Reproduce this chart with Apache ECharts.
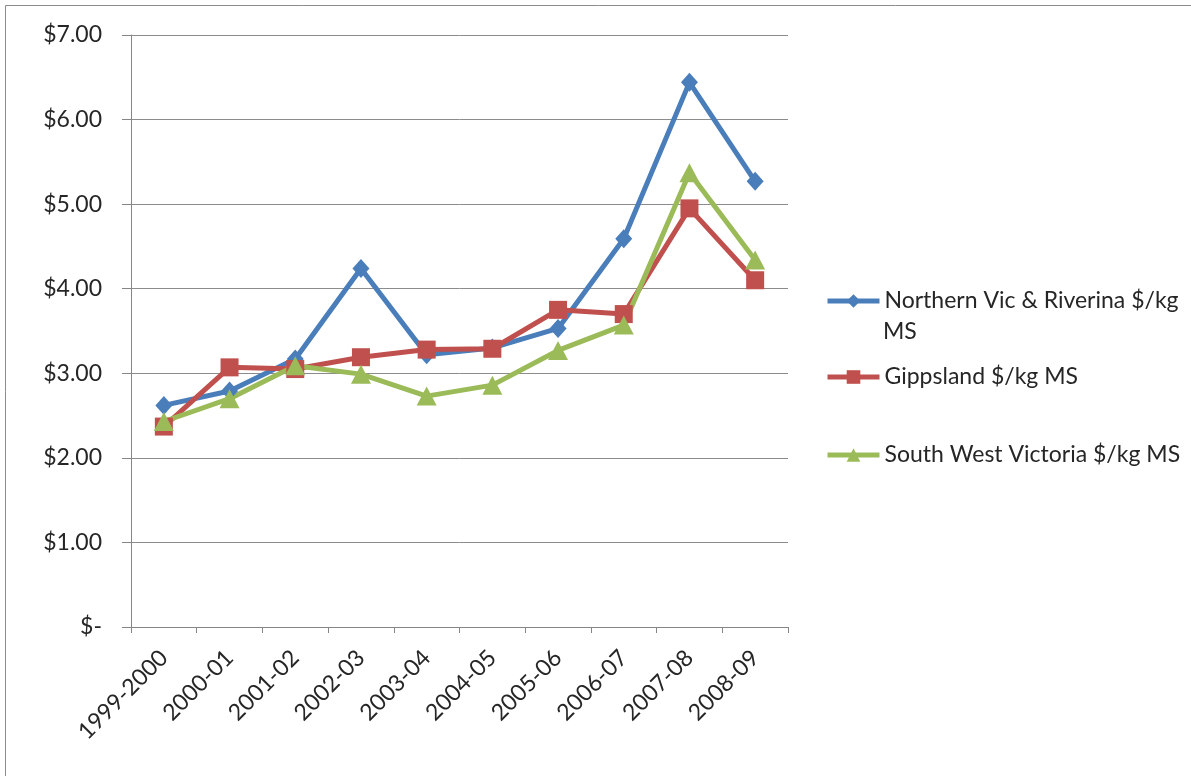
<!DOCTYPE html>
<html>
<head>
<meta charset="utf-8">
<script src="https://cdn.jsdelivr.net/npm/echarts@6/dist/echarts.min.js"></script>
<style>
  html, body { margin: 0; padding: 0; background: #fff; }
  #chart { width: 1191px; height: 776px; }
</style>
</head>
<body>
<div id="chart"></div>
<script>
// Milk price by region, $/kg milk solids
const seasons = ['1999-2000', '2000-01', '2001-02', '2002-03', '2003-04',
                 '2004-05', '2005-06', '2006-07', '2007-08', '2008-09'];
const northernVic = [2.62, 2.79, 3.17, 4.24, 3.22, 3.30, 3.53, 4.59, 6.44, 5.27];
const gippsland   = [2.37, 3.07, 3.05, 3.19, 3.28, 3.29, 3.75, 3.70, 4.95, 4.10];
const southWest   = [2.43, 2.70, 3.09, 2.99, 2.73, 2.86, 3.27, 3.57, 5.37, 4.34];

const names = ['Northern Vic & Riverina $/kg MS', 'Gippsland $/kg MS', 'South West Victoria $/kg MS'];
const colors = ['#4A7EBB', '#C0504D', '#9BBB59'];

const FONT = 'Lato';
const chart = echarts.init(document.getElementById('chart'), null, { renderer: 'canvas' });

function legendAt(name, top, fmt) {
  return {
    data: [name],
    left: 825,
    top: top,
    orient: 'vertical',
    itemWidth: 52,
    itemHeight: 17,
    padding: 0,
    selectedMode: false,
    formatter: fmt || '{name}',
    lineStyle: { width: 5 },
    textStyle: { fontFamily: FONT, fontSize: 23, color: '#262626', lineHeight: 26 }
  };
}

chart.setOption({
  animation: false,
  backgroundColor: '#ffffff',
  color: colors,
  grid: { left: 131, right: 403, top: 35, bottom: 149, containLabel: false },
  graphic: [
    {
      type: 'rect',
      shape: { x: 5.5, y: 5.5, width: 1300, height: 900 },
      style: { fill: 'none', stroke: '#8c8c8c', lineWidth: 1 },
      silent: true
    },
    {
      type: 'text',
      left: 883,
      top: 320,
      style: { text: 'MS', font: '23px ' + FONT, fill: '#262626' },
      silent: true
    }
  ],
  legend: [
    legendAt(names[0], 288, 'Northern Vic & Riverina $/kg'),
    legendAt(names[1], 364),
    legendAt(names[2], 442)
  ],
  xAxis: {
    type: 'category',
    data: seasons,
    boundaryGap: true,
    axisLine: { lineStyle: { color: '#868686', width: 1 } },
    axisTick: { show: true, length: 6, lineStyle: { color: '#868686' } },
    axisLabel: {
      rotate: 45,
      margin: 27,
      fontFamily: FONT,
      fontSize: 23,
      color: '#262626'
    },
    splitLine: { show: false }
  },
  yAxis: {
    type: 'value',
    min: 0,
    max: 7,
    interval: 1,
    axisLine: { show: true, lineStyle: { color: '#868686', width: 1 } },
    axisTick: { show: true, inside: false, length: 9, lineStyle: { color: '#868686' } },
    axisLabel: {
      margin: 29,
      fontFamily: FONT,
      fontSize: 23,
      color: '#262626',
      formatter: v => v === 0 ? '$-' : '$' + v.toFixed(2)
    },
    splitLine: { show: true, lineStyle: { color: '#8c8c8c', width: 1 } }
  },
  series: [
    {
      name: names[0], type: 'line', data: northernVic,
      symbol: 'diamond', symbolSize: [17, 19],
      lineStyle: { width: 5, color: colors[0] },
      itemStyle: { color: colors[0] }
    },
    {
      name: names[1], type: 'line', data: gippsland,
      symbol: 'rect', symbolSize: 18,
      lineStyle: { width: 5, color: colors[1] },
      itemStyle: { color: colors[1] }
    },
    {
      name: names[2], type: 'line', data: southWest,
      symbol: 'triangle', symbolSize: [20, 19],
      lineStyle: { width: 5, color: colors[2] },
      itemStyle: { color: colors[2] }
    }
  ]
});
</script>
</body>
</html>
